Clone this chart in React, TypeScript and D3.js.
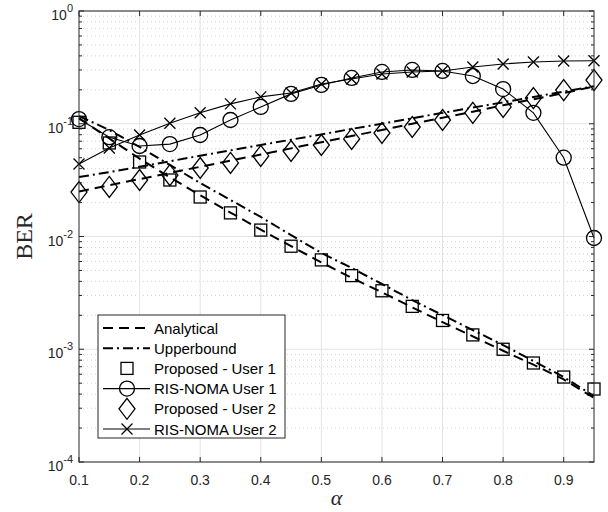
import React from 'react';
import * as d3 from 'd3';

// power allocation factor
const alpha = [0.1, 0.15, 0.2, 0.25, 0.3, 0.35, 0.4, 0.45, 0.5, 0.55, 0.6, 0.65, 0.7, 0.75, 0.8, 0.85, 0.9, 0.95];

// user 1
const analyticalU1 = [0.112, 0.074, 0.049, 0.0335, 0.0232, 0.0163, 0.0115, 0.0082, 0.0059, 0.0043, 0.0032, 0.00235, 0.00174, 0.0013, 0.00097, 0.00073, 0.00054, 0.00037];
const upperU1 = [0.117, 0.088, 0.0622, 0.0431, 0.0298, 0.0211, 0.0149, 0.0103, 0.00714, 0.00526, 0.00379, 0.00273, 0.00201, 0.00148, 0.00109, 0.000787, 0.000567, 0.000385];
const proposedU1 = [0.103, 0.0675, 0.0458, 0.0317, 0.0224, 0.0162, 0.0114, 0.0082, 0.0062, 0.0045, 0.0033, 0.0024, 0.0018, 0.00134, 0.001, 0.000755, 0.000567, 0.000444];
const risU1 = [0.11, 0.076, 0.0635, 0.066, 0.0795, 0.108, 0.141, 0.184, 0.221, 0.255, 0.288, 0.3, 0.294, 0.265, 0.203, 0.125, 0.05, 0.0097];

// user 2
const analyticalU2 = [0.0251, 0.0285, 0.0323, 0.0366, 0.0415, 0.0471, 0.0533, 0.0605, 0.0686, 0.0778, 0.0881, 0.1, 0.113, 0.128, 0.146, 0.165, 0.187, 0.214];
const upperU2 = [0.0337, 0.0372, 0.0415, 0.0465, 0.052, 0.058, 0.0648, 0.0722, 0.0805, 0.09, 0.1, 0.112, 0.125, 0.139, 0.155, 0.173, 0.193, 0.215];
const proposedU2 = [0.0248, 0.0275, 0.0317, 0.035, 0.0405, 0.0449, 0.0518, 0.0573, 0.0648, 0.0733, 0.0828, 0.0936, 0.108, 0.125, 0.141, 0.169, 0.199, 0.244];
const risU2 = [0.044, 0.061, 0.0795, 0.101, 0.125, 0.15, 0.173, 0.1875, 0.225, 0.249, 0.276, 0.288, 0.294, 0.319, 0.339, 0.353, 0.36, 0.362];

const xTicks = [0.1, 0.2, 0.3, 0.4, 0.5, 0.6, 0.7, 0.8, 0.9];
const yDecades = [-4, -3, -2, -1, 0];

const legendItems = [
  { label: 'Analytical', line: 'dash', marker: null },
  { label: 'Upperbound', line: 'dashdot', marker: null },
  { label: 'Proposed - User 1', line: null, marker: 'square' },
  { label: 'RIS-NOMA User 1', line: 'solid', marker: 'circle' },
  { label: 'Proposed - User 2', line: null, marker: 'diamond' },
  { label: 'RIS-NOMA User 2', line: 'solid', marker: 'cross' },
];

const axisColor = '#262626';
const DASH = '10,6';
const DASHDOT = '10,4,2,4';

function Marker({ type, cx, cy }: { type: string; cx: number; cy: number }) {
  const common = { fill: 'none', stroke: '#000', strokeWidth: 1.3 };
  if (type === 'square') return <rect x={cx - 6} y={cy - 6} width={12} height={12} {...common} />;
  if (type === 'circle') return <circle cx={cx} cy={cy} r={7.5} {...common} />;
  if (type === 'diamond')
    return <path d={`M${cx},${cy - 10.5}L${cx + 8},${cy}L${cx},${cy + 10.5}L${cx - 8},${cy}Z`} {...common} />;
  return <path d={`M${cx - 5.5},${cy - 5.5}L${cx + 5.5},${cy + 5.5}M${cx - 5.5},${cy + 5.5}L${cx + 5.5},${cy - 5.5}`} {...common} />;
}

export default function App() {
  const W = 608, H = 512;
  const x = d3.scaleLinear().domain([0.1, 0.95]).range([79, 594]);
  const y = d3.scaleLog().domain([1e-4, 1]).range([462, 11]);
  const [x0, x1] = x.range();
  const [y0, y1] = y.range();

  const line = d3.line<number>().x((_, i) => x(alpha[i])).y(d => y(d));

  const minorY: number[] = [];
  yDecades.slice(0, -1).forEach(e => {
    for (let k = 2; k <= 9; k++) minorY.push(k * Math.pow(10, e));
  });

  const font = '"Liberation Sans", Arial, Helvetica, sans-serif';
  const serif = '"Liberation Serif", "Times New Roman", serif';

  const legX = 98, legY = 315, legW = 187, legH = 123, rowH = 20.2;

  return (
    <svg width={W} height={H} style={{ position: 'absolute', left: 0, top: 0, background: '#fff' }}>
      {/* grid */}
      <g>
        {minorY.map((v, i) => (
          <line key={'my' + i} x1={x0} x2={x1} y1={y(v)} y2={y(v)} stroke="#c8c8c8" strokeWidth={0.8} strokeDasharray="1,3" />
        ))}
        {yDecades.map(e => (
          <line key={'gy' + e} x1={x0} x2={x1} y1={y(Math.pow(10, e))} y2={y(Math.pow(10, e))} stroke="#e3e3e3" strokeWidth={1} />
        ))}
        {xTicks.slice(1).map(t => (
          <line key={'gx' + t} x1={x(t)} x2={x(t)} y1={y0} y2={y1} stroke="#e3e3e3" strokeWidth={1} />
        ))}
      </g>

      {/* curves */}
      <g fill="none" stroke="#000">
        <path d={line(analyticalU1) || ''} strokeWidth={2} strokeDasharray={DASH} />
        <path d={line(analyticalU2) || ''} strokeWidth={2} strokeDasharray={DASH} />
        <path d={line(upperU1) || ''} strokeWidth={2} strokeDasharray={DASHDOT} />
        <path d={line(upperU2) || ''} strokeWidth={2} strokeDasharray={DASHDOT} />
        <path d={line(risU1) || ''} strokeWidth={1.1} />
        <path d={line(risU2) || ''} strokeWidth={1.1} />
      </g>

      {/* markers */}
      <g>
        {proposedU1.map((v, i) => <Marker key={'s' + i} type="square" cx={x(alpha[i])} cy={y(v)} />)}
        {risU1.map((v, i) => <Marker key={'c' + i} type="circle" cx={x(alpha[i])} cy={y(v)} />)}
        {proposedU2.map((v, i) => <Marker key={'d' + i} type="diamond" cx={x(alpha[i])} cy={y(v)} />)}
        {risU2.map((v, i) => <Marker key={'x' + i} type="cross" cx={x(alpha[i])} cy={y(v)} />)}
      </g>

      {/* axes box and ticks */}
      <g stroke={axisColor} strokeWidth={1}>
        <rect x={x0} y={y1} width={x1 - x0} height={y0 - y1} fill="none" />
        {xTicks.map(t => (
          <g key={'xt' + t}>
            <line x1={x(t)} x2={x(t)} y1={y0} y2={y0 - 5} />
            <line x1={x(t)} x2={x(t)} y1={y1} y2={y1 + 5} />
          </g>
        ))}
        {yDecades.map(e => (
          <g key={'yt' + e}>
            <line x1={x0} x2={x0 + 5} y1={y(Math.pow(10, e))} y2={y(Math.pow(10, e))} />
            <line x1={x1} x2={x1 - 5} y1={y(Math.pow(10, e))} y2={y(Math.pow(10, e))} />
          </g>
        ))}
        {minorY.map((v, i) => (
          <g key={'ym' + i}>
            <line x1={x0} x2={x0 + 3} y1={y(v)} y2={y(v)} />
            <line x1={x1} x2={x1 - 3} y1={y(v)} y2={y(v)} />
          </g>
        ))}
      </g>

      {/* tick labels */}
      <g fill={axisColor} fontFamily={font} fontSize={14}>
        {xTicks.map(t => (
          <text key={'xl' + t} x={x(t)} y={y0 + 23} textAnchor="middle">{t.toFixed(1)}</text>
        ))}
        {yDecades.map(e => (
          <text key={'yl' + e} x={73} y={y(Math.pow(10, e)) + 9} textAnchor="end">
            10<tspan dy={-8} fontSize={11}>{String(e)}</tspan>
          </text>
        ))}
      </g>

      {/* axis labels */}
      <text x={(x0 + x1) / 2} y={505} textAnchor="middle" fontFamily={serif} fontStyle="italic" fontSize={22} fill={axisColor}>α</text>
      <text transform={`translate(32,${(y0 + y1) / 2}) rotate(-90)`} textAnchor="middle" fontFamily={serif} fontSize={24} fill={axisColor}>BER</text>

      {/* legend */}
      <g>
        <rect x={legX} y={legY} width={legW} height={legH} fill="#fff" stroke={axisColor} strokeWidth={1} />
        {legendItems.map((it, i) => {
          const cy = legY + 13 + i * rowH;
          return (
            <g key={it.label}>
              {it.line && (
                <line x1={legX + 5} x2={legX + 52} y1={cy} y2={cy} stroke="#000"
                  strokeWidth={it.line === 'solid' ? 1.1 : 2}
                  strokeDasharray={it.line === 'dash' ? DASH : it.line === 'dashdot' ? DASHDOT : undefined} />
              )}
              {it.marker && <Marker type={it.marker} cx={legX + 29} cy={cy} />}
              <text x={legX + 56} y={cy + 5.5} fontFamily={font} fontSize={15} fill="#000">{it.label}</text>
            </g>
          );
        })}
      </g>
    </svg>
  );
}
